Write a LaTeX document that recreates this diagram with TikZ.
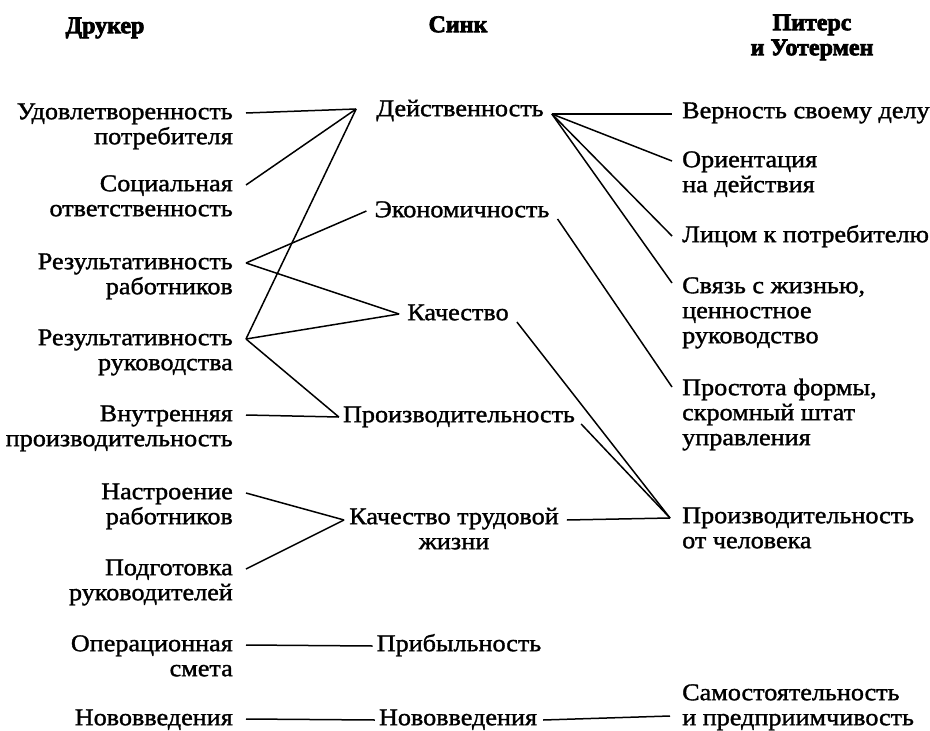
\documentclass[tikz,border=0pt]{standalone}
\usepackage{fontspec}
\setmainfont{Liberation Serif}[BoldFeatures={FakeBold=3}]
\newfontfamily\bodyfont{Liberation Serif}[FakeStretch=1.09, FakeBold=1.4]
\usetikzlibrary{calc}
\newcommand\st{\rule{0pt}{20pt}}
\begin{document}
\begin{tikzpicture}[x=1pt,y=-1pt,
  txt/.style={inner sep=0pt, font=\bodyfont\fontsize{24}{25}\selectfont},
  leftcol/.style={txt, anchor=north east, align=right},
  midcol/.style={txt, anchor=north, align=center},
  rightcol/.style={txt, anchor=north west, align=left},
  head/.style={inner sep=0pt, anchor=north, align=center,
    font=\fontsize{24}{25}\selectfont\bfseries},
  link/.style={line width=1.5pt}]
\useasboundingbox (0,0) rectangle (930,731);

% column headings
\node[head] (hd) at (105,13) {\st Друкер};
\node[head] (hs) at (458,12) {\st Синк};
\node[head] (hp) at (812,10) {\st Питерс\\и Уотермен};

% Drucker
\node[leftcol] (u)   at (233,99)  {\st Удовлетворенность\\потребителя};
\node[leftcol] (soc) at (233,171) {\st Социальная\\ответственность};
\node[leftcol] (rr)  at (233,249) {\st Результативность\\работников};
\node[leftcol] (rm)  at (233,325) {\st Результативность\\руководства};
\node[leftcol] (vn)  at (233,401) {\st Внутренняя\\производительность};
\node[leftcol] (ns)  at (233,479) {\st Настроение\\работников};
\node[leftcol] (pd)  at (233,555) {\st Подготовка\\руководителей};
\node[leftcol] (op)  at (233,631) {\st Операционная\\смета};
\node[leftcol] (nv1) at (233,705) {\st Нововведения};

% Sink
\node[midcol] (de)  at (460,96)  {\st Действенность};
\node[midcol] (ek)  at (462,197) {\st Экономичность};
\node[midcol] (ka)  at (458,300) {\st Качество};
\node[midcol] (pr)  at (459,402) {\st Производительность};
\node[midcol] (kt)  at (454,504) {\st Качество трудовой\\жизни};
\node[midcol] (pb)  at (459,631) {\st Прибыльность};
\node[midcol] (nv2) at (458,705) {\st Нововведения};

% Peters and Waterman
\node[rightcol] (ve) at (682,98)  {\st Верность своему делу};
\node[rightcol] (or) at (682,147) {\st Ориентация\\на действия};
\node[rightcol] (li) at (682,222) {\st Лицом к потребителю};
\node[rightcol] (sv) at (682,273) {\st Связь с жизнью,\\ценностное\\руководство};
\node[rightcol] (pt) at (682,375) {\st Простота формы,\\скромный штат\\управления};
\node[rightcol] (pc) at (682,503) {\st Производительность\\от человека};
\node[rightcol] (sa) at (682,680) {\st Самостоятельность\\и предприимчивость};

% connection points
\coordinate (deL) at ($(de.north west)+(-20,13)$);
\coordinate (deR) at ($(de.north east)+(8,18)$);
\coordinate (ekL) at ($(ek.north west)+(-8,14)$);
\coordinate (ekR) at ($(ek.north east)+(8,22)$);
\coordinate (kaL) at ($(ka.north west)+(-8,14)$);
\coordinate (kaR) at ($(ka.north east)+(8,22)$);
\coordinate (prL) at ($(pr.north west)+(-4,15)$);
\coordinate (prR) at ($(pr.north east)+(6,22)$);
\coordinate (ktL) at ($(kt.north west)+(-5,16)$);
\coordinate (ktR) at ($(kt.north east)+(8,16)$);
\coordinate (pbL) at ($(pb.north west)+(-4,15)$);
\coordinate (nvL) at ($(nv2.north west)+(-4,15)$);
\coordinate (nvR) at ($(nv2.north east)+(6,15)$);
\coordinate (pcL) at ($(pc.north west)+(-12,15)$);

% Drucker -> Sink
\draw[link] ($(u.north east)+(13,14)$)   -- (deL);
\draw[link] ($(soc.north east)+(13,14)$) -- (deL);
\draw[link] ($(rm.north east)+(13,14)$)  -- (deL);
\draw[link] ($(rr.north east)+(13,14)$)  -- (ekL);
\draw[link] ($(rr.north east)+(13,14)$)  -- (kaL);
\draw[link] ($(rm.north east)+(13,14)$)  -- (kaL);
\draw[link] ($(rm.north east)+(13,14)$)  -- (prL);
\draw[link] ($(vn.north east)+(13,14)$)  -- (prL);
\draw[link] ($(ns.north east)+(13,14)$)  -- (ktL);
\draw[link] ($(pd.north east)+(13,14)$)  -- (ktL);
\draw[link] ($(op.north east)+(13,14)$)  -- (pbL);
\draw[link] ($(nv1.north east)+(13,14)$) -- (nvL);

% Sink -> Peters and Waterman
\draw[link] (deR) -- ($(ve.north west)+(-10,16)$);
\draw[link] (deR) -- ($(or.north west)+(-10,14)$);
\draw[link] (deR) -- ($(li.north west)+(-10,14)$);
\draw[link] (deR) -- ($(sv.north west)+(-10,10)$);
\draw[link] (ekR) -- ($(pt.north west)+(-10,12)$);
\draw[link] (kaR) -- (pcL);
\draw[link] (prR) -- (pcL);
\draw[link] (ktR) -- (pcL);
\draw[link] (nvR) -- ($(sa.north west)+(-12,36)$);
\end{tikzpicture}
\end{document}
